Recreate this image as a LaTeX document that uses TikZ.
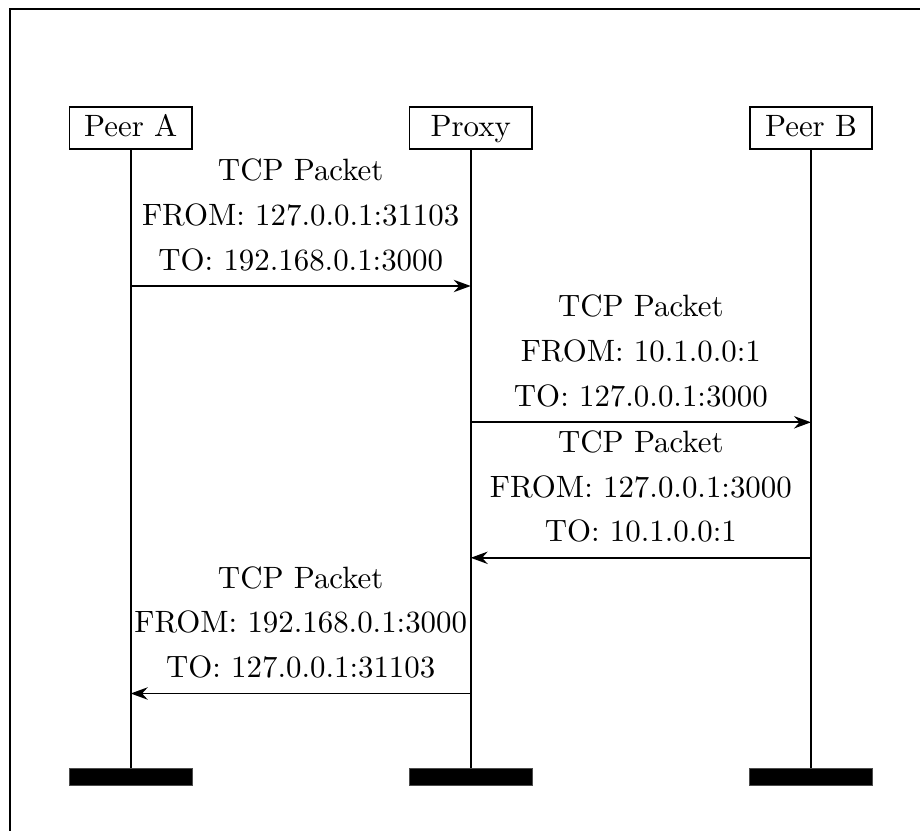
\documentclass[tikz,border=0pt]{standalone}
\usetikzlibrary{arrows.meta}
\begin{document}
\begin{tikzpicture}[x=0.324pt,y=-0.324pt,
  inst/.style={draw, rectangle, line width=0.6pt, minimum width=39.7pt,
    text height=6pt, text depth=1pt, inner sep=3.33pt, fill=white},
  lifeend/.style={rectangle, fill=black, draw=black!70, line width=0.2pt,
    minimum width=39.7pt, minimum height=5.5pt, inner sep=0pt},
  life/.style={line width=0.6pt},
  msg/.style={line width=0.6pt, -{Stealth[length=5.5pt,width=4pt,inset=1.8pt]}},
  msglabel/.style={midway, above, align=center, inner sep=0pt, yshift=4.6pt,
    font=\fontsize{10}{14.5}\selectfont}]
  \useasboundingbox (0,0) rectangle (920,831);

  % frame edges
  \draw[line width=0.6pt] (10,831) -- (10,9.3) -- (920,9.3);

  % participants
  \node[inst] (pa) at (130.7,128.3) {Peer A};
  \node[inst] (px) at (470.7,128.3) {Proxy};
  \node[inst] (pb) at (811,128.3) {Peer B};

  % lifeline terminators
  \node[lifeend] (ea) at (130.7,776.5) {};
  \node[lifeend] (ex) at (470.7,776.5) {};
  \node[lifeend] (eb) at (811,776.5) {};

  % lifelines
  \draw[life] (pa.south) -- (ea.north);
  \draw[life] (px.south) -- (ex.north);
  \draw[life] (pb.south) -- (eb.north);

  % message anchor points on the lifelines
  \coordinate (a1) at (130.7,286);
  \coordinate (x1) at (470.7,286);
  \coordinate (x2) at (470.7,422.3);
  \coordinate (b2) at (811,422.3);
  \coordinate (b3) at (811,557.8);
  \coordinate (x3) at (470.7,557.8);
  \coordinate (x4) at (470.7,693.5);
  \coordinate (a4) at (130.7,693.5);

  % messages
  \draw[msg] (a1) -- (x1) node[msglabel] (m1) {TCP Packet\\FROM: 127.0.0.1:31103\\TO: 192.168.0.1:3000};
  \draw[msg] (x2) -- (b2) node[msglabel] (m2) {TCP Packet\\FROM: 10.1.0.0:1\\TO: 127.0.0.1:3000};
  \draw[msg] (b3) -- (x3) node[msglabel] (m3) {TCP Packet\\FROM: 127.0.0.1:3000\\TO: 10.1.0.0:1};
  \draw[msg] (x4) -- (a4) node[msglabel] (m4) {TCP Packet\\FROM: 192.168.0.1:3000\\TO: 127.0.0.1:31103};
\end{tikzpicture}
\end{document}
